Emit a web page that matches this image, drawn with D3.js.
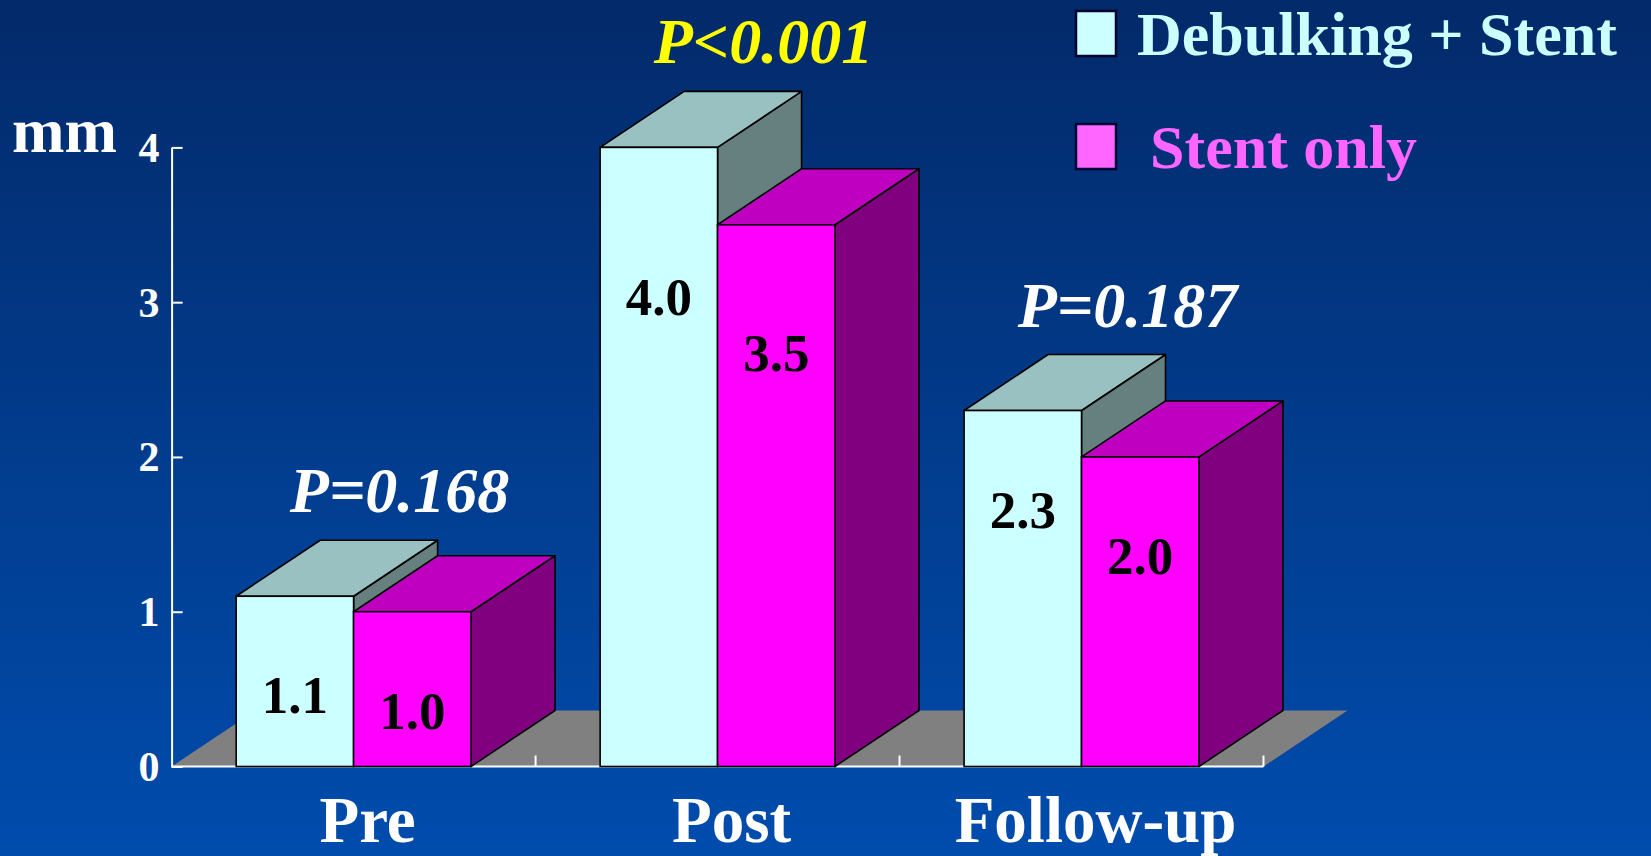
<!DOCTYPE html>
<html>
<head>
<meta charset="utf-8">
<script src="https://cdn.jsdelivr.net/npm/d3@7"></script>
<style>
  html, body { margin: 0; padding: 0; overflow: hidden; }
  text { font-family: "Liberation Serif", "Times New Roman", serif; font-weight: bold; }
</style>
</head>
<body>
<div id="chart"></div>
<script>
// data
var categories = ["Pre", "Post", "Follow-up"];
var seriesNames = ["Debulking + Stent", "Stent only"];
var debulkingStent = [1.1, 4.0, 2.3];
var stentOnly = [1.0, 3.5, 2.0];
var pLabels = ["P=0.168", "P<0.001", "P=0.187"];
var yTicks = [0, 1, 2, 3, 4];

var svgWidth = 1651;
var svgHeight = 856;

var svg = d3.select("#chart")
    .append("svg")
    .attr("width", svgWidth)
    .attr("height", svgHeight);

// background gradient
var defs = svg.append("defs");
var grad = defs.append("linearGradient")
    .attr("id", "bg")
    .attr("x1", 0).attr("y1", 0)
    .attr("x2", 0).attr("y2", 1);
grad.append("stop").attr("offset", "0%").attr("stop-color", "#032a6a");
grad.append("stop").attr("offset", "100%").attr("stop-color", "#004cad");
svg.append("rect")
    .attr("width", svgWidth)
    .attr("height", svgHeight)
    .attr("fill", "url(#bg)");

var axisX = 171.6;
var axisEnd = 1263.5;
var baseY = 766.5;
var topY = 147.4;
var dx = 84, dy = -56;   // 3d depth offset

var x0 = d3.scaleBand()
    .domain(categories)
    .range([axisX, axisEnd])
    .padding(0);

var x1 = d3.scaleBand()
    .domain(seriesNames)
    .range([0, x0.bandwidth()])
    .paddingInner(0)
    .paddingOuter(0.55);

var y = d3.scaleLinear()
    .domain([0, 4])
    .range([baseY, topY]);

var styles = {
  "Debulking + Stent": { front: "#ccffff", top: "#99c1c1", side: "#668080" },
  "Stent only": { front: "#ff00ff", top: "#c000c0", side: "#800080" }
};

// floor
svg.append("polygon")
    .attr("points", [
      [axisX, baseY], [axisEnd, baseY],
      [axisEnd + dx, baseY + dy], [axisX + dx, baseY + dy]
    ].map(p => p.join(",")).join(" "))
    .attr("fill", "#808080");

// y axis (ticks pointing into the plot)
var yAxis = d3.axisLeft(y)
    .tickValues(yTicks)
    .tickFormat(d3.format("d"))
    .tickSizeInner(-11)
    .tickSizeOuter(0)
    .tickPadding(12);

var yG = svg.append("g")
    .attr("transform", `translate(${axisX},0)`)
    .call(yAxis);
yG.select(".domain").attr("stroke", "#ffffff").attr("stroke-width", 2);
yG.selectAll(".tick line").attr("stroke", "#ffffff").attr("stroke-width", 2);
yG.selectAll(".tick text")
    .attr("fill", "#ffffff")
    .attr("font-size", "42px")
    .attr("font-family", "Liberation Serif, serif")
    .attr("font-weight", "bold")
    .attr("dy", "0.33em");

// x baseline with ticks at band edges
svg.append("line")
    .attr("x1", axisX).attr("x2", axisEnd)
    .attr("y1", baseY).attr("y2", baseY)
    .attr("stroke", "#ffffff").attr("stroke-width", 2);
svg.selectAll(".xtick")
    .data(categories)
    .enter()
    .append("line")
    .attr("class", "xtick")
    .attr("x1", d => x0(d) + x0.bandwidth())
    .attr("x2", d => x0(d) + x0.bandwidth())
    .attr("y1", baseY)
    .attr("y2", baseY - 11)
    .attr("stroke", "#ffffff").attr("stroke-width", 2);

// bars
var rows = [];
categories.forEach(function(c, i) {
  rows.push({ cat: c, series: seriesNames[0], value: debulkingStent[i] });
  rows.push({ cat: c, series: seriesNames[1], value: stentOnly[i] });
});

var w = x1.bandwidth();
var barG = svg.selectAll(".bar")
    .data(rows)
    .enter()
    .append("g")
    .attr("class", "bar");

function pts(a) { return a.map(p => p.join(",")).join(" "); }

barG.append("polygon")
    .attr("points", function(d) {
      var x = x0(d.cat) + x1(d.series), yv = y(d.value);
      return pts([[x + w, baseY], [x + w, yv], [x + w + dx, yv + dy], [x + w + dx, baseY + dy]]);
    })
    .attr("fill", d => styles[d.series].side)
    .attr("stroke", "#000").attr("stroke-width", 1.6).attr("stroke-linejoin", "round");

barG.append("polygon")
    .attr("points", function(d) {
      var x = x0(d.cat) + x1(d.series), yv = y(d.value);
      return pts([[x, yv], [x + w, yv], [x + w + dx, yv + dy], [x + dx, yv + dy]]);
    })
    .attr("fill", d => styles[d.series].top)
    .attr("stroke", "#000").attr("stroke-width", 1.6).attr("stroke-linejoin", "round");

barG.append("rect")
    .attr("x", d => x0(d.cat) + x1(d.series))
    .attr("y", d => y(d.value))
    .attr("width", w)
    .attr("height", d => baseY - y(d.value))
    .attr("fill", d => styles[d.series].front)
    .attr("stroke", "#000").attr("stroke-width", 1.6);

// value labels
barG.append("text")
    .attr("x", d => x0(d.cat) + x1(d.series) + w / 2)
    .attr("y", function(d) {
      var h = baseY - y(d.value);
      return y(d.value) + Math.max(117, Math.min(173, h * 0.27));
    })
    .attr("text-anchor", "middle")
    .attr("font-size", "53px")
    .attr("fill", "#000")
    .text(d => d.value.toFixed(1));

// p-value annotations
svg.selectAll(".pval")
    .data(categories)
    .enter()
    .append("text")
    .attr("class", "pval")
    .attr("x", d => x0(d) + x0.bandwidth() / 2 + dx / 2 + 4)
    .attr("y", (d, i) => y(Math.max(debulkingStent[i], stentOnly[i])) + dy - 28)
    .attr("text-anchor", "middle")
    .attr("font-size", "64px")
    .attr("font-style", "italic")
    .attr("fill", (d, i) => pLabels[i].indexOf("<") >= 0 ? "#ffff00" : "#ffffff")
    .text((d, i) => pLabels[i]);

// category labels
svg.selectAll(".cat")
    .data(categories)
    .enter()
    .append("text")
    .attr("class", "cat")
    .attr("x", d => x0(d) + x0.bandwidth() / 2 + 14)
    .attr("y", 842)
    .attr("text-anchor", "middle")
    .attr("font-size", "65px")
    .attr("fill", "#ffffff")
    .text(d => d);

// unit label
svg.append("text")
    .attr("x", 12)
    .attr("y", 152)
    .attr("font-size", "63px")
    .attr("fill", "#ffffff")
    .text("mm");

// legend
var legendColors = ["#ccffff", "#ff66ff"];
var legend = svg.selectAll(".legend")
    .data(seriesNames)
    .enter()
    .append("g")
    .attr("class", "legend")
    .attr("transform", (d, i) => `translate(1076, ${11 + i * 113})`);

legend.append("rect")
    .attr("width", 40)
    .attr("height", 45)
    .attr("fill", (d, i) => legendColors[i])
    .attr("stroke", "#000033")
    .attr("stroke-width", 2.5);

legend.append("text")
    .attr("x", (d, i) => i === 0 ? 61 : 74)
    .attr("y", 44)
    .attr("font-size", "62px")
    .attr("fill", (d, i) => legendColors[i])
    .text(d => d);
</script>
</body>
</html>
